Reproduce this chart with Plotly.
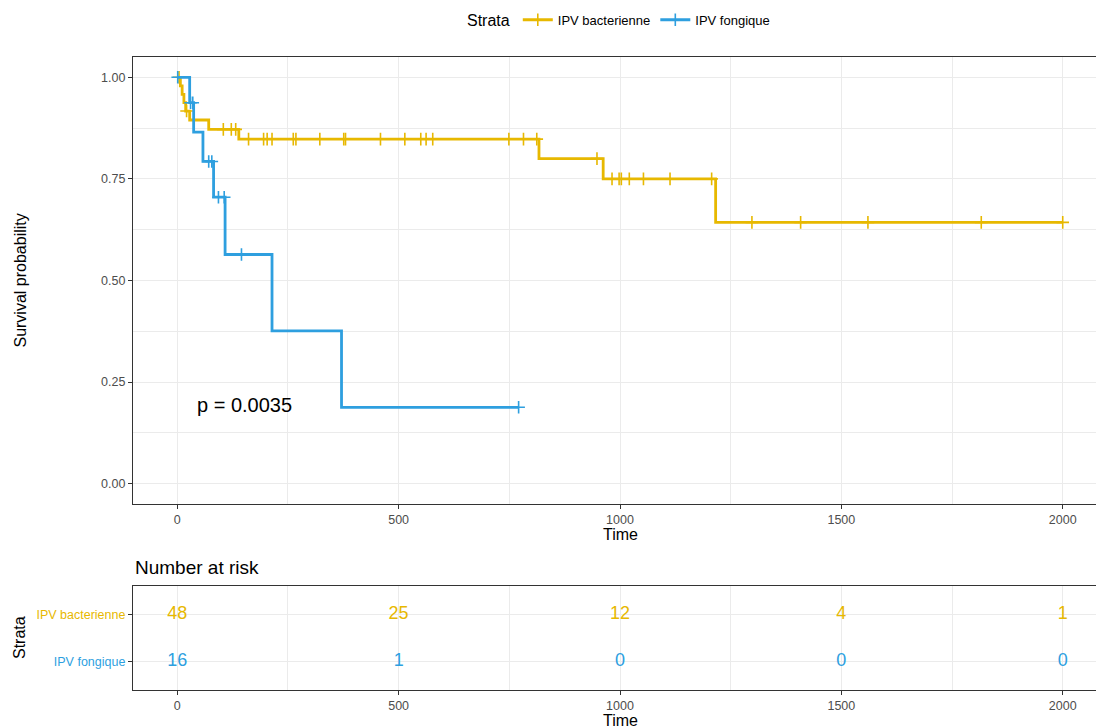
import plotly.graph_objects as go

# ---------------- data ----------------
strata = ["IPV bacterienne", "IPV fongique"]
colors = ["#E7B800", "#2E9FDF"]

# Kaplan-Meier step curves (time of each step, survival after the step)
bact_time = [0, 7, 11, 15, 19, 28, 71, 139, 817, 962, 1216, 2000]
bact_surv = [1.0, 0.979, 0.958, 0.9375, 0.917, 0.895, 0.872, 0.848, 0.800, 0.750, 0.643, 0.643]
bact_censor = [4, 21, 104, 122, 132, 161, 195, 203, 214, 262, 268, 322, 376, 380,
               459, 514, 550, 562, 577, 749, 782, 812, 948, 982, 998, 1003, 1021,
               1053, 1113, 1207, 1298, 1408, 1560, 1816, 2000]

fong_time = [0, 28, 37, 58, 82, 108, 214, 371, 771]
fong_surv = [1.0, 0.9375, 0.865, 0.793, 0.705, 0.564, 0.376, 0.188, 0.188]
fong_censor = [1, 30, 35, 71, 78, 93, 106, 145, 771]

# number at risk table
risk_times = [0, 500, 1000, 1500, 2000]
risk_bact = [48, 25, 12, 4, 1]
risk_fong = [16, 1, 0, 0, 0]

x_ticks = [0, 500, 1000, 1500, 2000]
x_minor = [250, 750, 1250, 1750]
y_ticks = [0, 0.25, 0.5, 0.75, 1.0]
y_ticklabels = ["0.00", "0.25", "0.50", "0.75", "1.00"]
y_minor = [0.125, 0.375, 0.625, 0.875]
pval_text = "p = 0.0035"


def step_value(times, surv, t):
    val = surv[0]
    for ti, si in zip(times, surv):
        if ti <= t:
            val = si
    return val


FONT = "Liberation Sans, Arial, Helvetica, sans-serif"
TICK_COL = "#4D4D4D"
BORDER = "#333333"
GRID = "#EBEBEB"

fig = go.Figure()

curves = [
    (bact_time, bact_surv, bact_censor, risk_bact, 2),
    (fong_time, fong_surv, fong_censor, risk_fong, 1),
]
for (times, surv, cens, risk, row), name, col in zip(curves, strata, colors):
    fig.add_trace(go.Scatter(
        x=times, y=surv, mode="lines", line=dict(color=col, width=2.8, shape="hv"),
        showlegend=False, hoverinfo="skip", xaxis="x", yaxis="y"))
    fig.add_trace(go.Scatter(
        x=cens, y=[step_value(times, surv, t) for t in cens], mode="markers",
        marker=dict(symbol="cross-thin", size=9, line=dict(color=col, width=1.6)),
        showlegend=False, hoverinfo="skip", xaxis="x", yaxis="y"))
    # legend entry
    fig.add_trace(go.Scatter(
        x=[None], y=[None], mode="lines+markers", name=name,
        line=dict(color=col, width=2.8),
        marker=dict(symbol="cross-thin", size=9, line=dict(color=col, width=1.6)),
        xaxis="x", yaxis="y"))
    # risk table numbers
    fig.add_trace(go.Scatter(
        x=risk_times, y=[row] * len(risk_times), mode="text",
        text=[str(v) for v in risk], textposition="middle center",
        textfont=dict(family=FONT, size=18, color=col),
        showlegend=False, hoverinfo="skip", xaxis="x2", yaxis="y2"))

X_RANGE = [-100, 2100]
common_x = dict(
    range=X_RANGE, tickvals=x_ticks, ticktext=[str(v) for v in x_ticks],
    showgrid=True, gridcolor=GRID, gridwidth=1,
    minor=dict(tickvals=x_minor, showgrid=True, gridcolor=GRID, gridwidth=0.6, ticks=""),
    showline=True, linecolor=BORDER, linewidth=1.2, mirror=True,
    ticks="outside", ticklen=4, tickcolor=BORDER, tickwidth=1.2,
    tickfont=dict(family=FONT, size=12.5, color=TICK_COL),
    zeroline=False, fixedrange=True,
)

LEFT_TITLE_X = -0.116

ann = []
ann.append(dict(text="Time", x=1000, xref="x", y=0.2464, yref="paper",
                showarrow=False, xanchor="center", yanchor="middle",
                font=dict(family=FONT, size=16, color="black")))
ann.append(dict(text="Survival probability", x=LEFT_TITLE_X, xref="paper", y=0.5, yref="y",
                showarrow=False, textangle=-90, xanchor="center", yanchor="middle",
                font=dict(family=FONT, size=16, color="black")))
ann.append(dict(text=pval_text, x=40, xref="x", y=0.193, yref="y",
                showarrow=False, xanchor="left", yanchor="middle",
                font=dict(family=FONT, size=20, color="black")))
ann.append(dict(text="Number at risk", x=0, xref="paper", y=0.1943, yref="paper",
                showarrow=False, xanchor="left", yanchor="middle",
                font=dict(family=FONT, size=19, color="black")))
ann.append(dict(text="Strata", x=LEFT_TITLE_X, xref="paper", y=1.5, yref="y2",
                showarrow=False, textangle=-90, xanchor="center", yanchor="middle",
                font=dict(family=FONT, size=16, color="black")))
ann.append(dict(text="Time", x=1000, xref="x2", y=-0.0485, yref="paper",
                showarrow=False, xanchor="center", yanchor="middle",
                font=dict(family=FONT, size=16, color="black")))

fig.update_layout(
    width=1107, height=726,
    margin=dict(l=133, r=0, t=57, b=36),
    paper_bgcolor="white", plot_bgcolor="white",
    font=dict(family=FONT),
    xaxis=dict(domain=[0, 1], anchor="y", **common_x),
    yaxis=dict(domain=[0.2938, 1.0], anchor="x", range=[-0.05, 1.05],
               tickvals=y_ticks, ticktext=y_ticklabels,
               showgrid=True, gridcolor=GRID, gridwidth=1,
               minor=dict(tickvals=y_minor, showgrid=True, gridcolor=GRID, gridwidth=0.6, ticks=""),
               showline=True, linecolor=BORDER, linewidth=1.2, mirror=False,
               ticks="outside", ticklen=4, tickcolor=BORDER, tickwidth=1.2,
               tickfont=dict(family=FONT, size=12.5, color=TICK_COL),
               zeroline=False, fixedrange=True),
    xaxis2=dict(domain=[0, 1], anchor="y2", **common_x),
    yaxis2=dict(domain=[0, 0.1643], anchor="x2", range=[0.4, 2.6],
                tickvals=[2, 1],
                ticktext=[f'<span style="color:{colors[0]}">{strata[0]}</span>',
                          f'<span style="color:{colors[1]}">{strata[1]}</span>'],
                showgrid=True, gridcolor=GRID, gridwidth=1,
                showline=True, linecolor=BORDER, linewidth=1.2, mirror=False,
                ticks="outside", ticklen=4, tickcolor=BORDER, tickwidth=1.2,
                tickfont=dict(family=FONT, size=12.5, color=TICK_COL),
                zeroline=False, fixedrange=True),
    legend=dict(orientation="h", x=0.5, xanchor="center", y=1.058, yanchor="middle",
                title=dict(text="Strata", side="left", font=dict(family=FONT, size=16, color="black")),
                font=dict(family=FONT, size=13, color="black"),
                bgcolor="rgba(0,0,0,0)", itemwidth=30),
    annotations=ann,
    showlegend=True,
)

fig.write_html(
    "out.html",
    config={"displayModeBar": False},
    post_script="document.body.style.margin='0';document.body.style.overflow='hidden';"
                "document.documentElement.style.overflow='hidden';",
)
